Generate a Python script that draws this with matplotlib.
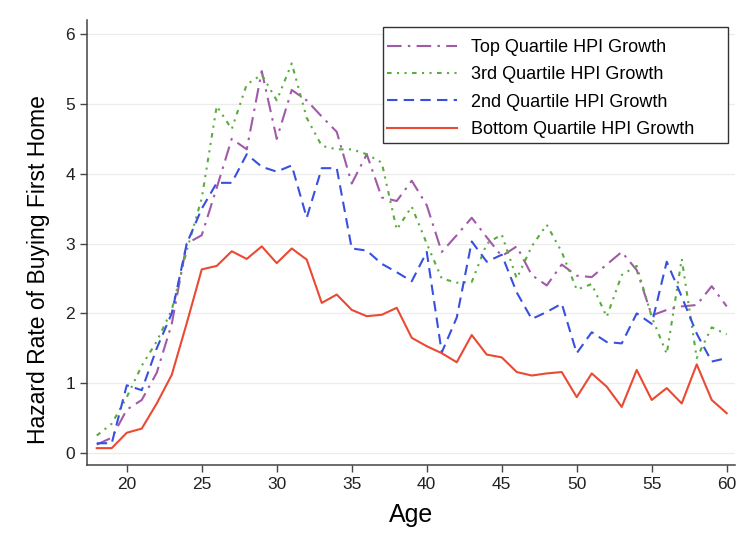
import matplotlib
matplotlib.use("Agg")
import matplotlib.pyplot as plt
from matplotlib.patches import Rectangle

ages = list(range(18, 61))

top_q = [0.12, 0.22, 0.62, 0.76, 1.15, 1.85, 3.00, 3.12, 3.80, 4.50,
         4.35, 5.47, 4.50, 5.20, 5.05, 4.82, 4.60, 3.86, 4.28, 3.66,
         3.61, 3.90, 3.55, 2.88, 3.12, 3.37, 3.09, 2.82, 2.96, 2.55,
         2.40, 2.70, 2.54, 2.52, 2.70, 2.88, 2.62, 1.97, 2.05, 2.10,
         2.12, 2.39, 2.10]

third_q = [0.25, 0.42, 0.80, 1.25, 1.60, 2.05, 2.90, 3.65, 4.97, 4.64,
           5.28, 5.42, 5.05, 5.58, 4.80, 4.40, 4.35, 4.35, 4.28, 4.16,
           3.20, 3.53, 3.00, 2.50, 2.44, 2.45, 3.00, 3.13, 2.50, 2.96,
           3.27, 2.88, 2.34, 2.42, 1.95, 2.55, 2.68, 1.95, 1.42, 2.78,
           1.36, 1.80, 1.70]

second_q = [0.14, 0.14, 0.97, 0.90, 1.50, 2.00, 3.00, 3.50, 3.87, 3.87,
            4.28, 4.10, 4.03, 4.12, 3.37, 4.08, 4.08, 2.93, 2.90, 2.71,
            2.59, 2.46, 2.88, 1.44, 1.94, 3.03, 2.74, 2.84, 2.30, 1.92,
            2.02, 2.14, 1.43, 1.73, 1.59, 1.57, 2.00, 1.85, 2.74, 2.24,
            1.71, 1.31, 1.36]

bottom_q = [0.07, 0.07, 0.29, 0.35, 0.71, 1.12, 1.86, 2.63, 2.68, 2.89,
            2.78, 2.96, 2.72, 2.93, 2.77, 2.15, 2.27, 2.05, 1.96, 1.98,
            2.08, 1.65, 1.53, 1.43, 1.30, 1.69, 1.41, 1.37, 1.16, 1.11,
            1.14, 1.16, 0.80, 1.14, 0.95, 0.66, 1.19, 0.76, 0.93, 0.71,
            1.27, 0.76, 0.57]

labels = ["Top Quartile HPI Growth", "3rd Quartile HPI Growth",
          "2nd Quartile HPI Growth", "Bottom Quartile HPI Growth"]
x_ticks = [20, 25, 30, 35, 40, 45, 50, 55, 60]
y_ticks = [0, 1, 2, 3, 4, 5, 6]

plt.rcParams['font.family'] = ['Liberation Sans', 'DejaVu Sans']

W, H = 743, 541
fig = plt.figure(figsize=(W / 100, H / 100), dpi=100)
ax = fig.add_axes([0.1171, 0.1407, 0.8721, 0.822])

for yv in y_ticks:
    ax.axhline(yv, color='#ececec', lw=0.9, zorder=0)

ax.plot(ages, top_q, color='#a05aa8', lw=1.5, dashes=(7, 3, 1.2, 3), label=labels[0])
ax.plot(ages, third_q, color='#5aac3c', lw=1.5, dashes=(2.2, 2.6, 1.0, 2.6, 1.0, 2.6), label=labels[1])
ax.plot(ages, second_q, color='#3850e0', lw=1.5, dashes=(5, 3), label=labels[2])
ax.plot(ages, bottom_q, color='#ea4a32', lw=1.5, label=labels[3])

ax.set_xlim(17.35, 60.55)
ax.set_ylim(-0.17, 6.2)
ax.set_xticks(x_ticks)
ax.set_yticks(y_ticks)
ax.tick_params(axis='both', direction='out', length=5, width=1, color='#444444',
               labelsize=12.5, labelcolor='#222222')
for s in ['top', 'right']:
    ax.spines[s].set_visible(False)
for s in ['left', 'bottom']:
    ax.spines[s].set_color('#444444')
    ax.spines[s].set_linewidth(1.1)

ax.set_xlabel("Age", fontsize=18, labelpad=8)
ax.set_ylabel("Hazard Rate of Buying First Home", fontsize=16.5)
ax.yaxis.set_label_coords(-0.057, 0.44)

# legend box (frame drawn separately, Stata-style wide box)
box = Rectangle((383 / W, 1 - 143 / H), 345 / W, 116 / H, transform=fig.transFigure,
                facecolor='white', edgecolor='#333333', lw=1.0, zorder=5, clip_on=False)
ax.add_patch(box)
leg = ax.legend(loc='upper left', bbox_to_anchor=(387 / W, 1 - 39 / H),
                bbox_transform=fig.transFigure, borderaxespad=0, borderpad=0,
                fontsize=13, handlelength=3.9, handletextpad=0.75, frameon=False,
                labelspacing=0.57)
leg.set_zorder(6)

fig.savefig("out.png", dpi=100)
